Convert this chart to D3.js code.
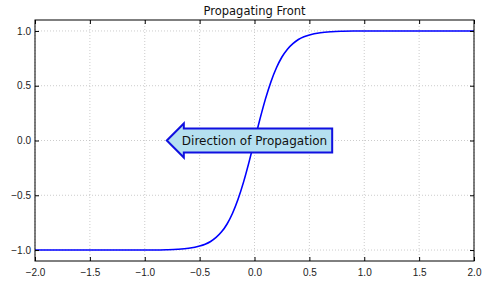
<!DOCTYPE html>
<html>
<head>
<meta charset="utf-8">
<script src="https://cdn.jsdelivr.net/npm/d3@7"></script>
<style>
  body { margin: 0; background: #fff; }
  svg { font-family: "DejaVu Sans", sans-serif; }
</style>
</head>
<body>
<div id="chart"></div>
<script>
// front profile
var xs = [-2.0, -1.5, -1.2, -1.0, -0.9, -0.8, -0.7, -0.6, -0.5, -0.45, -0.4, -0.35, -0.3, -0.25, -0.2, -0.15, -0.1, -0.05,
          0.0, 0.05, 0.1, 0.15, 0.2, 0.25, 0.3, 0.35, 0.4, 0.45, 0.5, 0.6, 0.7, 0.8, 0.9, 1.0, 1.2, 1.5, 2.0];
var ys = [-1.0, -1.0, -1.0, -0.999, -0.999, -0.997, -0.993, -0.984, -0.964, -0.947, -0.922, -0.885, -0.834, -0.762, -0.664, -0.537, -0.38, -0.197,
          0.0, 0.197, 0.38, 0.537, 0.664, 0.762, 0.834, 0.885, 0.922, 0.947, 0.964, 0.984, 0.993, 0.997, 0.999, 0.999, 1.0, 1.0, 1.0];

var xTicks = [-2.0, -1.5, -1.0, -0.5, 0.0, 0.5, 1.0, 1.5, 2.0];
var yTicks = [-1.0, -0.5, 0.0, 0.5, 1.0];

var title = "Propagating Front";
var noteText = "Direction of Propagation";
var noteAt = [0.0, 0.0];

var W = 500, H = 286;
var margin = {top: 20, right: 26, bottom: 25, left: 35};
var width = W - margin.left - margin.right,
    height = H - margin.top - margin.bottom;

var x = d3.scaleLinear().domain([-2, 2]).range([0, width]);
var y = d3.scaleLinear().domain([-1.1, 1.1]).range([height, 0]);

var fmt = function(d) { return d3.format(".1f")(d).replace("-", "\u2212"); };

var svg = d3.select("#chart").append("svg")
    .attr("width", W)
    .attr("height", H);

var g = svg.append("g")
    .attr("transform", "translate(" + margin.left + "," + margin.top + ")");

// dotted grid
g.selectAll("line.gx").data(xTicks).enter().append("line")
    .attr("x1", function(d) { return x(d); }).attr("x2", function(d) { return x(d); })
    .attr("y1", 0).attr("y2", height)
    .attr("stroke", "#aaa").attr("stroke-width", 0.6).attr("stroke-dasharray", "1,2");
g.selectAll("line.gy").data(yTicks).enter().append("line")
    .attr("y1", function(d) { return y(d); }).attr("y2", function(d) { return y(d); })
    .attr("x1", 0).attr("x2", width)
    .attr("stroke", "#aaa").attr("stroke-width", 0.6).attr("stroke-dasharray", "1,2");

// the curve
var line = d3.line()
    .x(function(d, i) { return x(xs[i]); })
    .y(function(d, i) { return y(ys[i]); })
    .curve(d3.curveMonotoneX);

g.append("path")
    .datum(xs)
    .attr("d", line)
    .attr("fill", "none")
    .attr("stroke", "#0000ff")
    .attr("stroke-width", 1.6);

// axes, ticks pointing inward like classic matplotlib
var tickStyle = function(sel) {
    sel.select(".domain").remove();
    sel.selectAll(".tick line").attr("stroke", "#000");
    sel.selectAll(".tick text").attr("fill", "#222").style("font-size", "10px");
};

g.append("g").attr("transform", "translate(0," + height + ")")
    .call(d3.axisBottom(x).tickValues(xTicks).tickFormat(fmt).tickSizeInner(-4).tickSizeOuter(0).tickPadding(8))
    .call(tickStyle);
g.append("g").attr("transform", "translate(0,0)")
    .call(d3.axisTop(x).tickValues(xTicks).tickFormat("").tickSizeInner(-4).tickSizeOuter(0))
    .call(tickStyle);
g.append("g")
    .call(d3.axisLeft(y).tickValues(yTicks).tickFormat(fmt).tickSizeInner(-4).tickSizeOuter(0).tickPadding(4))
    .call(tickStyle);
g.append("g").attr("transform", "translate(" + width + ",0)")
    .call(d3.axisRight(y).tickValues(yTicks).tickFormat("").tickSizeInner(-4).tickSizeOuter(0))
    .call(tickStyle);

// frame
g.append("rect")
    .attr("width", width).attr("height", height)
    .attr("fill", "none").attr("stroke", "#000").attr("stroke-width", 1);

// title
svg.append("text")
    .attr("x", margin.left + width / 2)
    .attr("y", 15)
    .attr("text-anchor", "middle")
    .style("font-size", "11.5px")
    .attr("fill", "#111")
    .text(title);

// left-arrow annotation box
var cx = x(noteAt[0]), cy = y(noteAt[1]);
var note = g.append("g");
var label = note.append("text")
    .attr("x", cx).attr("y", cy)
    .attr("text-anchor", "middle")
    .attr("dy", "0.35em")
    .style("font-size", "12px")
    .attr("fill", "#111")
    .text(noteText);
var bb = label.node().getBBox();
var halfH = 12, headH = 17, headW = 17;
var left = bb.x + 2, right = bb.x + bb.width + 5;
var pts = [
    [left - headW, cy],
    [left, cy - headH],
    [left, cy - halfH],
    [right, cy - halfH],
    [right, cy + halfH],
    [left, cy + halfH],
    [left, cy + headH]
];
note.insert("path", "text")
    .attr("d", "M" + pts.map(function(p) { return p.join(","); }).join("L") + "Z")
    .attr("fill", "#b5e0f0")
    .attr("stroke", "#1010e0")
    .attr("stroke-width", 2)
    .attr("stroke-linejoin", "miter");
</script>
</body>
</html>
